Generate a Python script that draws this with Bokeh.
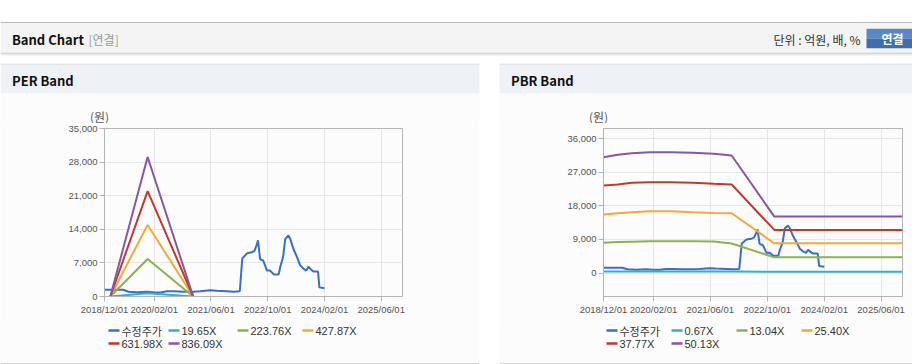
import pandas as pd
from bokeh.plotting import figure
from bokeh.layouts import column, row
from bokeh.models import (Range1d, FixedTicker, DatetimeTickFormatter,
                          NumeralTickFormatter, Spacer)
from bokeh.core.properties import value
from bokeh.embed import file_html
from bokeh.resources import INLINE

KR = "Noto Sans CJK KR"
LAT = "Liberation Sans"

# ---------------- data ----------------
price_name = "수정주가"
price_dates = ["2018-12-01", "2019-05-10", "2019-06-25", "2019-09-06", "2019-12-01",
               "2020-01-28", "2020-03-25", "2020-05-19", "2020-07-16", "2020-10-10",
               "2021-01-04", "2021-03-01", "2021-05-25", "2021-07-22", "2021-10-16",
               "2021-12-13", "2022-02-04", "2022-02-25", "2022-04-07", "2022-05-19",
               "2022-06-10", "2022-07-01", "2022-07-10", "2022-07-28", "2022-08-25",
               "2022-09-25", "2022-10-22", "2022-11-22", "2023-01-04", "2023-01-16",
               "2023-02-10", "2023-03-01", "2023-03-28", "2023-04-13", "2023-05-10",
               "2023-06-10", "2023-07-07", "2023-08-04", "2023-08-28", "2023-09-16",
               "2023-10-01", "2023-10-28", "2023-12-07", "2023-12-19", "2024-02-01"]
price_values = [1400, 1400, 1000, 900, 1000,
                900, 850, 1100, 1100, 1000,
                1000, 1100, 1300, 1200, 1100,
                1000, 1100, 7900, 9000, 9200,
                9500, 10900, 11700, 7800, 7450,
                5400, 5400, 4600, 4600, 6100,
                8200, 12000, 12700, 12000, 9900,
                8200, 6500, 5800, 5400, 6200,
                5800, 5200, 5200, 1900, 1700]

per_band_dates = ["2019-01-20", "2019-12-06", "2020-12-31"]
per_band_labels = ["19.65X", "223.76X", "427.87X", "631.98X", "836.09X"]
per_19_65 = [0, 680, 0]
per_223_76 = [0, 7800, 0]
per_427_87 = [0, 14900, 0]
per_631_98 = [0, 21950, 0]
per_836_09 = [0, 29060, 0]

pbr_band_dates = ["2018-12-01", "2019-04-01", "2019-08-01", "2020-01-01", "2020-07-01",
                  "2021-01-01", "2021-07-01", "2021-12-01", "2022-12-01", "2025-12-01"]
pbr_band_labels = ["0.67X", "13.04X", "25.40X", "37.77X", "50.13X"]
pbr_0_67 = [420, 420, 430, 430, 430, 430, 430, 420, 350, 350]
pbr_13_04 = [8140, 8300, 8410, 8500, 8500, 8500, 8450, 7900, 4200, 4200]
pbr_25_40 = [15660, 16000, 16280, 16550, 16550, 16280, 16100, 16010, 7950, 7950]
pbr_37_77 = [23450, 23720, 24180, 24360, 24360, 24180, 23910, 23720, 11550, 11550]
pbr_50_13 = [31060, 31700, 32130, 32400, 32400, 32240, 31970, 31520, 15130, 15130]

x_tick_dates = ["2018-12-01", "2020-02-01", "2021-06-01", "2022-10-01", "2024-02-01", "2025-06-01"]
x_range_dates = ["2018-12-01", "2025-12-01"]
per_y_ticks = [0, 7000, 14000, 21000, 28000, 35000]
per_y_range = [0, 35000]
pbr_y_ticks = [0, 9000, 18000, 27000, 36000]
pbr_y_range = [-6300, 38750]
y_unit_label = "(원)"

COLORS = ["#3a6fc4", "#36aec5", "#8db14f", "#f0aa3c", "#c0392b", "#8a56a0"]


def ms(d):
    return pd.Timestamp(d).timestamp() * 1000.0


X0, X1 = ms(x_range_dates[0]), ms(x_range_dates[1])
XTICKS = [ms(d) for d in x_tick_dates]

# ---------------- header (page coords 0..912 x 0..123) ----------------
W = 912
HH = 123
hdr = figure(width=W, height=HH, x_range=Range1d(0, W), y_range=Range1d(HH, 0),
             min_border=0, output_backend="svg", toolbar_location=None,
             x_axis_location=None, y_axis_location=None, frame_align=False)
hdr.grid.visible = False
hdr.outline_line_color = None
hdr.background_fill_color = "#ffffff"
hdr.border_fill_color = "#ffffff"

hdr.quad(left=[0], right=[W], top=[21.5], bottom=[22.5], color="#b9b9b9", line_width=0)
hdr.quad(left=[0], right=[W], top=[22.5], bottom=[52.3], color="#f4f4f4", line_width=0)
hdr.quad(left=[0], right=[W], top=[52.3], bottom=[53.3], color="#c4c4c4", line_width=0)
hdr.quad(left=[0], right=[W], top=[53.3], bottom=[54.3], color="#dedede", line_width=0)
hdr.quad(left=[0], right=[W], top=[54.3], bottom=[55.3], color="#f1f1f1", line_width=0)
for l, r in [(0, 479), (499, W)]:
    hdr.quad(left=[l], right=[r], top=[63.3], bottom=[64.3], color="#d6d6d6", line_width=0)
    hdr.quad(left=[l], right=[r], top=[64.3], bottom=[93], color="#eef2f7", line_width=0)
    hdr.quad(left=[l], right=[r], top=[93], bottom=[HH], color="#fcfcfc", line_width=0)

hdr.text(x=[11.5], y=[38.5], text=["Band Chart"], text_font=value(KR), text_font_style="bold",
         text_font_size="13px", text_color="#111111", text_baseline="middle")
hdr.text(x=[88], y=[38.5], text=["[연결]"], text_font=value(KR),
         text_font_size="12px", text_color="#999999", text_baseline="middle")
hdr.text(x=[860], y=[38.5], text=["단위 : 억원, 배, %"], text_font=value(KR),
         text_font_size="12px", text_color="#333333", text_baseline="middle", text_align="right")
hdr.quad(left=[866], right=[W], top=[28.3], bottom=[38], color="#5a88c4", line_width=0)
hdr.quad(left=[866], right=[W], top=[38], bottom=[47.7], color="#3f6dad", line_width=0)
hdr.text(x=[892], y=[38], text=["연결"], text_font=value(KR), text_font_style="bold",
         text_font_size="12px", text_color="#ffffff", text_baseline="middle", text_align="center")
hdr.text(x=[11.5], y=[79.5], text=["PER Band"], text_font=value(KR), text_font_style="bold",
         text_font_size="13px", text_color="#111111", text_baseline="middle")
hdr.text(x=[510.5], y=[79.5], text=["PBR Band"], text_font=value(KR), text_font_style="bold",
         text_font_size="13px", text_color="#111111", text_baseline="middle")
for cx in [99, 598]:
    hdr.text(x=[cx], y=[115.5], text=[y_unit_label], text_font=value(KR),
             text_font_size="12px", text_color="#555555", text_baseline="middle",
             text_align="center")


# ---------------- charts ----------------
CH = 320 - HH


def chart(width, mb_left, mb_right, yr, yticks, band_dates, bands):
    p = figure(width=width, height=CH, x_axis_type="datetime",
               x_range=Range1d(X0, X1), y_range=Range1d(yr[0], yr[1]),
               output_backend="svg", toolbar_location=None, frame_align=False,
               min_border_left=mb_left, min_border_right=mb_right,
               min_border_top=5, min_border_bottom=24)
    p.background_fill_color = "#fcfcfc"
    p.border_fill_color = "#fcfcfc"
    p.outline_line_color = "#b4b4b4"
    xt = FixedTicker(ticks=XTICKS)
    p.xaxis.ticker = xt
    p.xgrid.ticker = xt
    fmt = "%Y/%m/%d"
    p.xaxis.formatter = DatetimeTickFormatter(
        milliseconds=fmt, seconds=fmt, minsec=fmt, minutes=fmt, hourmin=fmt,
        hours=fmt, days=fmt, months=fmt, years=fmt)
    yt = FixedTicker(ticks=yticks)
    p.yaxis.ticker = yt
    p.ygrid.ticker = yt
    p.yaxis.formatter = NumeralTickFormatter(format="0,0")
    for ax in p.axis:
        ax.axis_line_color = "#b4b4b4"
        ax.major_tick_line_color = "#b4b4b4"
        ax.major_tick_out = 5
        ax.major_tick_in = 0
        ax.minor_tick_line_color = None
        ax.major_label_text_font = LAT
        ax.major_label_text_font_size = "9.5px"
        ax.major_label_text_color = "#555555"
        ax.major_label_standoff = 2
    p.grid.grid_line_color = "#e6e6e6"

    p.line(pd.to_datetime(price_dates), price_values, color=COLORS[0], line_width=2)
    bd = pd.to_datetime(band_dates)
    for i, vals in enumerate(bands):
        p.line(bd, vals, color=COLORS[i + 1], line_width=2)
    return p


LH = 364 - 320


def legend_fig(width, x0, cols, names):
    p = figure(width=width, height=LH, x_range=Range1d(x0, x0 + width),
               y_range=Range1d(364, 320), min_border=0, output_backend="svg",
               toolbar_location=None, x_axis_location=None, y_axis_location=None,
               frame_align=False)
    p.grid.visible = False
    p.outline_line_color = None
    p.background_fill_color = "#fcfcfc"
    p.border_fill_color = "#fcfcfc"
    rows_y = [330, 343]
    for i, name in enumerate(names):
        cx = cols[i % 4]
        ry = rows_y[i // 4]
        p.segment(x0=[cx], x1=[cx + 11], y0=[ry], y1=[ry], color=COLORS[i], line_width=2.5)
        font = KR if i == 0 else LAT
        p.text(x=[cx + 13], y=[ry], text=[name], text_font=value(font), text_font_size="11px",
               text_color="#333333", text_baseline="middle")
    # panel bottom border
    p.quad(left=[x0], right=[x0 + width], top=[362.5], bottom=[363.5], color="#d8d8d8",
           line_width=0)
    p.quad(left=[x0], right=[x0 + width], top=[363.5], bottom=[364], color="#ffffff",
           line_width=0)
    return p


per = chart(479, 104, 77, per_y_range, per_y_ticks, per_band_dates,
            [per_19_65, per_223_76, per_427_87, per_631_98, per_836_09])
pbr = chart(413, 104, 10, pbr_y_range, pbr_y_ticks, pbr_band_dates,
            [pbr_0_67, pbr_13_04, pbr_25_40, pbr_37_77, pbr_50_13])

per_leg = legend_fig(479, 0, [108, 168, 237, 302], [price_name] + per_band_labels)
pbr_leg = legend_fig(413, 499, [606, 671, 736, 801], [price_name] + pbr_band_labels)

layout = column(hdr, row(column(per, per_leg), Spacer(width=20, height=CH + LH),
                         column(pbr, pbr_leg)))

open("out.html", "w").write(file_html(layout, INLINE))
